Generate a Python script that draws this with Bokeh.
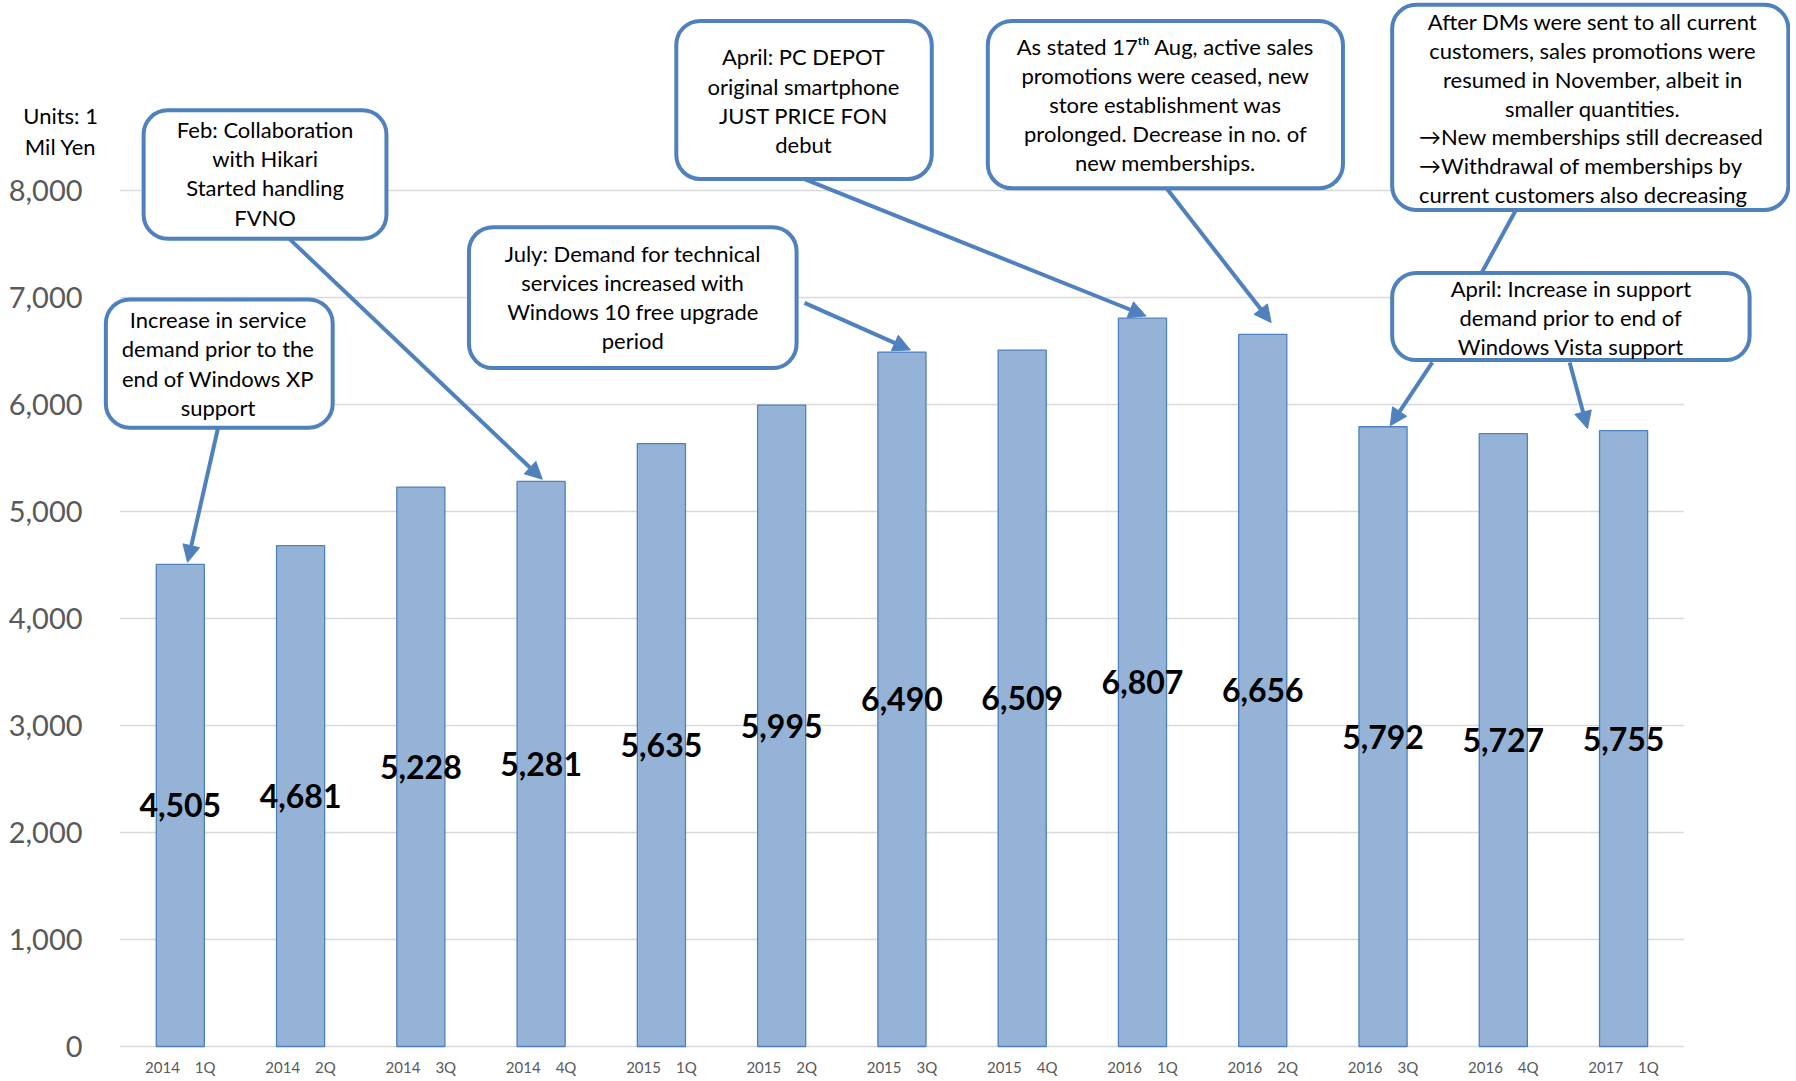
from bokeh.plotting import figure
from bokeh.models import Range1d, BoxAnnotation, Arrow, NormalHead, ColumnDataSource
from bokeh.core.properties import value
from bokeh.embed import file_html
from bokeh.resources import INLINE

# ---------------- data ----------------
quarters = ["2014\u30001Q", "2014\u30002Q", "2014\u30003Q", "2014\u30004Q",
            "2015\u30001Q", "2015\u30002Q", "2015\u30003Q", "2015\u30004Q",
            "2016\u30001Q", "2016\u30002Q", "2016\u30003Q", "2016\u30004Q",
            "2017\u30001Q"]
sales = [4505, 4681, 5228, 5281, 5635, 5995, 6490, 6509, 6807, 6656, 5792, 5727, 5755]
y_ticks = [0, 1000, 2000, 3000, 4000, 5000, 6000, 7000, 8000]
unit_label = "Units: 1\nMil Yen"

notes = [
    "Increase in service\ndemand prior to the\nend of Windows XP\nsupport",
    "Feb: Collaboration\nwith Hikari\nStarted handling\nFVNO",
    "July: Demand for technical\nservices increased with\nWindows 10 free upgrade\nperiod",
    "April: PC DEPOT\noriginal smartphone\nJUST PRICE FON\ndebut",
    "As stated 17\u1d57\u02b0 Aug, active sales\npromotions were ceased, new\nstore establishment was\nprolonged. Decrease in no. of\nnew memberships.",
    "After DMs were sent to all current\ncustomers, sales promotions were\nresumed in November, albeit in\nsmaller quantities.",
    "April: Increase in support\ndemand prior to end of\nWindows Vista support",
]
note_extra = "\u2192New memberships still decreased\n\u2192Withdrawal of memberships by\ncurrent customers also decreasing"

BLUE = "#4F81BD"
BAR = "#95B3D7"
GRID = "#D9D9D9"
GRAYTXT = "#595959"
FONT = "Lato"
LH = 1.08

idx = list(range(len(quarters)))

p = figure(width=1790, height=1080, output_backend="svg", toolbar_location=None,
           x_range=Range1d(-1.495, 13.388), y_range=Range1d(-317.8, 9775.7),
           min_border_left=0, min_border_right=0, min_border_top=0, min_border_bottom=0)
p.outline_line_color = None
p.xaxis.visible = False
p.yaxis.visible = False
p.xgrid.visible = False
p.ygrid.visible = False

# gridlines (incl. baseline) spanning the category area only
n = len(y_ticks)
p.segment(x0=[-0.5] * n, x1=[len(quarters) - 0.5] * n, y0=y_ticks, y1=y_ticks,
          line_color=GRID, line_width=1.6)

# y tick labels
p.text(x=[-0.813] * n, y=y_ticks, text=[f"{t:,}" for t in y_ticks], text_align="right",
       text_baseline="middle", text_font=value(FONT), text_font_size="29px",
       text_color=GRAYTXT)

# x tick labels
p.text(x=idx, y=[-192] * len(idx), text=quarters, text_align="center",
       text_baseline="middle", text_font=value(FONT), text_font_size="15px",
       text_color=GRAYTXT)

# units label
p.text(x=[-0.995], y=[8556], text=[unit_label], text_align="center",
       text_baseline="middle", text_font=value(FONT), text_font_size="22px",
       text_color="black", text_line_height=1.15)

# bars
src = ColumnDataSource(dict(x=idx, top=sales, mid=[v / 2 for v in sales],
                            lab=[f"{v:,}" for v in sales]))
p.vbar(x="x", top="top", width=0.4, source=src, fill_color=BAR,
       line_color=BLUE, line_width=1.3)
p.text(x="x", y="mid", text="lab", source=src, text_align="center",
       text_baseline="middle", text_font=value(FONT), text_font_style="bold",
       text_font_size="32px", text_color="black")

# arrows (start at box edge, tip at bar tops)
def arrow(xs, ys, xe, ye, head=True):
    end = NormalHead(size=17, fill_color=BLUE, line_color=BLUE) if head else None
    p.add_layout(Arrow(end=end, x_start=xs, y_start=ys, x_end=xe, y_end=ye,
                       line_color=BLUE, line_width=4))

arrow(0.314, 5783, 0 + 0.06, sales[0] + 20)
arrow(0.905, 7550, 3 + 0.01, sales[3] + 20)
arrow(5.19, 6950, 6 + 0.07, sales[6] + 20)
arrow(5.19, 8107, 8 + 0.03, sales[8] + 20)
arrow(8.20, 8021, 9 + 0.07, sales[9] + 110)
arrow(11.105, 7818, 10.819, 7229, head=False)
arrow(10.41, 6393, 10 + 0.06, sales[10] + 10)
arrow(11.552, 6393, 12 - 0.30, sales[12] + 20)

# callout boxes
boxes = [(-0.619, 1.267, 5783, 6982),
         (-0.305, 1.714, 7550, 8749),
         (2.40, 5.124, 6340, 7657),
         (4.124, 6.248, 8107, 9585),
         (6.714, 9.667, 8021, 9585),
         (10.076, 13.37, 7818, 9735),
         (10.076, 13.048, 6415, 7229)]
for l, r, b, t in boxes:
    p.add_layout(BoxAnnotation(left=l, right=r, bottom=b, top=t, border_radius=24,
                               fill_color="white", fill_alpha=1.0,
                               line_color=BLUE, line_width=4, line_alpha=1.0))

note_x = [0.314, 0.705, 3.762, 5.181, 8.19, 11.743, 11.562]
note_y = [6383, 8160, 7004, 8840, 8803, 9172, 6811]
tr = p.text(x=note_x, y=note_y, text=notes, text_align="center", text_baseline="middle",
            text_font=value(FONT), text_font_size="22px", text_color="black",
            text_line_height=LH)
tr.level = "overlay"
tr2 = p.text(x=[10.30], y=[8235], text=[note_extra], text_align="left",
             text_baseline="middle", text_font=value(FONT), text_font_size="22px",
             text_color="black", text_line_height=LH)
tr2.level = "overlay"

open("out.html", "w").write(file_html(p, INLINE))
